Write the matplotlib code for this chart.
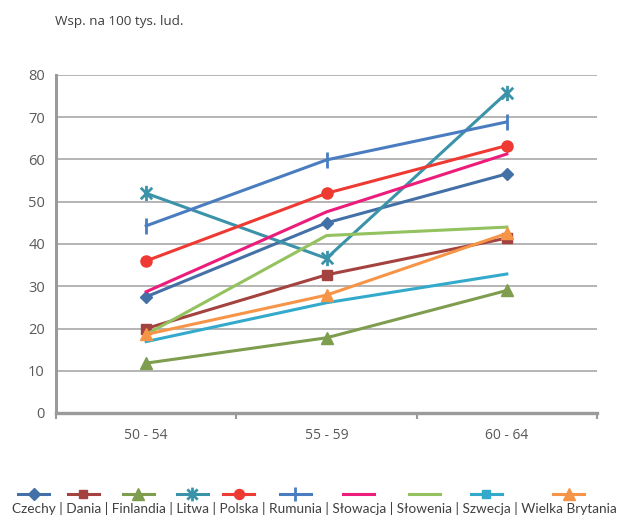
import matplotlib
matplotlib.use("Agg")
import matplotlib.pyplot as plt
from matplotlib.path import Path

plt.rcParams['font.family'] = ['Open Sans', 'DejaVu Sans']

# Age groups and rates per 100k population
categories = ["50 - 54", "55 - 59", "60 - 64"]
countries = ["Czechy", "Dania", "Finlandia", "Litwa", "Polska", "Rumunia",
             "Słowacja", "Słowenia", "Szwecja", "Wielka Brytania"]
czechy = [27.5, 45.0, 56.6]
dania = [20.0, 32.7, 41.4]
finlandia = [11.8, 17.8, 29.0]
litwa = [52.0, 36.6, 75.8]
polska = [36.0, 52.0, 63.3]
rumunia = [44.3, 59.9, 68.9]
slowacja = [28.7, 47.6, 61.3]
slowenia = [18.6, 42.0, 44.0]
szwecja = [16.9, 26.1, 32.9]
wielka_brytania = [18.6, 27.9, 42.5]

series = [czechy, dania, finlandia, litwa, polska, rumunia,
          slowacja, slowenia, szwecja, wielka_brytania]

# asterisk: vertical bar plus an X
star = Path([(0, -1), (0, 1), (-0.75, -0.75), (0.75, 0.75),
             (-0.75, 0.75), (0.75, -0.75)],
            [Path.MOVETO, Path.LINETO, Path.MOVETO, Path.LINETO,
             Path.MOVETO, Path.LINETO])

# (colour, marker on data, marker in key, marker size)
styles = [
    ("#4470A8", "D", "D", 6.5),
    ("#A4423F", "s", "s", 6.5),
    ("#7E9D4E", "^", "^", 9),
    ("#3A93A8", star, star, 11),
    ("#EE3A33", "o", "o", 8),
    ("#4A7DC0", "|", "|", 11),
    ("#EC1C7A", None, None, 0),
    ("#93C25E", None, None, 0),
    ("#33AACB", None, "s", 6.5),
    ("#F69547", "^", "^", 9),
]

W, H = 618, 517
fig = plt.figure(figsize=(W / 100, H / 100), dpi=100)
ax = fig.add_axes([56 / W, 1 - 413 / H, (597 - 56) / W, (413 - 75) / H])

x = list(range(len(categories)))
for vals, (col, mk, _, ms) in zip(series, styles):
    mew = 2.0 if (mk is star or mk == "|") else 1.0
    ax.plot(x, vals, color=col, lw=2.2, marker=mk, ms=ms, mew=mew,
            mec=col, mfc=col, solid_joinstyle='round', zorder=3)

ax.set_xlim(-0.5, 2.5)
ax.set_ylim(0, 80)
ax.set_yticks(range(0, 81, 10))
ax.grid(axis='y', color='#A8A8A8', lw=1.2, zorder=0)
ax.set_axisbelow(True)
for s in ('top', 'right'):
    ax.spines[s].set_visible(False)
ax.spines['left'].set_color('#9A9A9A')
ax.spines['left'].set_linewidth(2.2)
ax.spines['bottom'].set_color('#9A9A9A')
ax.spines['bottom'].set_linewidth(2.4)
ax.set_xticks(x)
ax.set_xticklabels(categories)
ax.set_xticks([-0.5, 0.5, 1.5, 2.5], minor=True)
ax.tick_params(axis='x', which='major', length=0, pad=11, labelsize=10,
               labelcolor='#595959')
ax.tick_params(axis='x', which='minor', length=4, width=1.5, color='#9A9A9A',
               direction='out')
ax.tick_params(axis='y', length=0, pad=8, labelsize=10.5, labelcolor='#595959')

fig.text(55 / W, 1 - 22 / H, "Wsp. na 100 tys. lud.", fontsize=9.7,
         color='#404040', ha='left', va='center')

# key row: one line of names with line samples centred above each name
lax = fig.add_axes([0, 0, 1, 1])
lax.set_xlim(0, W)
lax.set_ylim(H, 0)
lax.axis('off')

key_font = ['Lato', 'DejaVu Sans']
sep = " | "
label = sep.join(countries)
renderer = fig.canvas.get_renderer()


def text_width(s, size):
    t = lax.text(0, 0, s, fontsize=size, family=key_font)
    w = t.get_window_extent(renderer).width
    t.remove()
    return w


fs = 10.0
fs = fs * 602 / text_width(label, fs)
mid = 314
lax.text(mid, 513, label, fontsize=fs, family=key_font, color='#404040',
         ha='center', va='baseline')
total = text_width(label, fs)
left = mid - total / 2
for i, (name, (col, _, kmk, ms)) in enumerate(zip(countries, styles)):
    prefix = sep.join(countries[:i]) + (sep if i else "")
    start = left + (text_width(prefix, fs) if prefix else 0)
    cx = start + text_width(name, fs) / 2
    mew = 2.0 if (kmk is star or kmk == "|") else 1.0
    lax.plot([cx - 15.5, cx + 15.5], [494, 494], color=col, lw=2.2)
    if kmk is not None:
        lax.plot([cx], [494], color=col, marker=kmk, ms=ms * 0.9, mew=mew,
                 mec=col, mfc=col)

fig.savefig("out.png", dpi=100)
